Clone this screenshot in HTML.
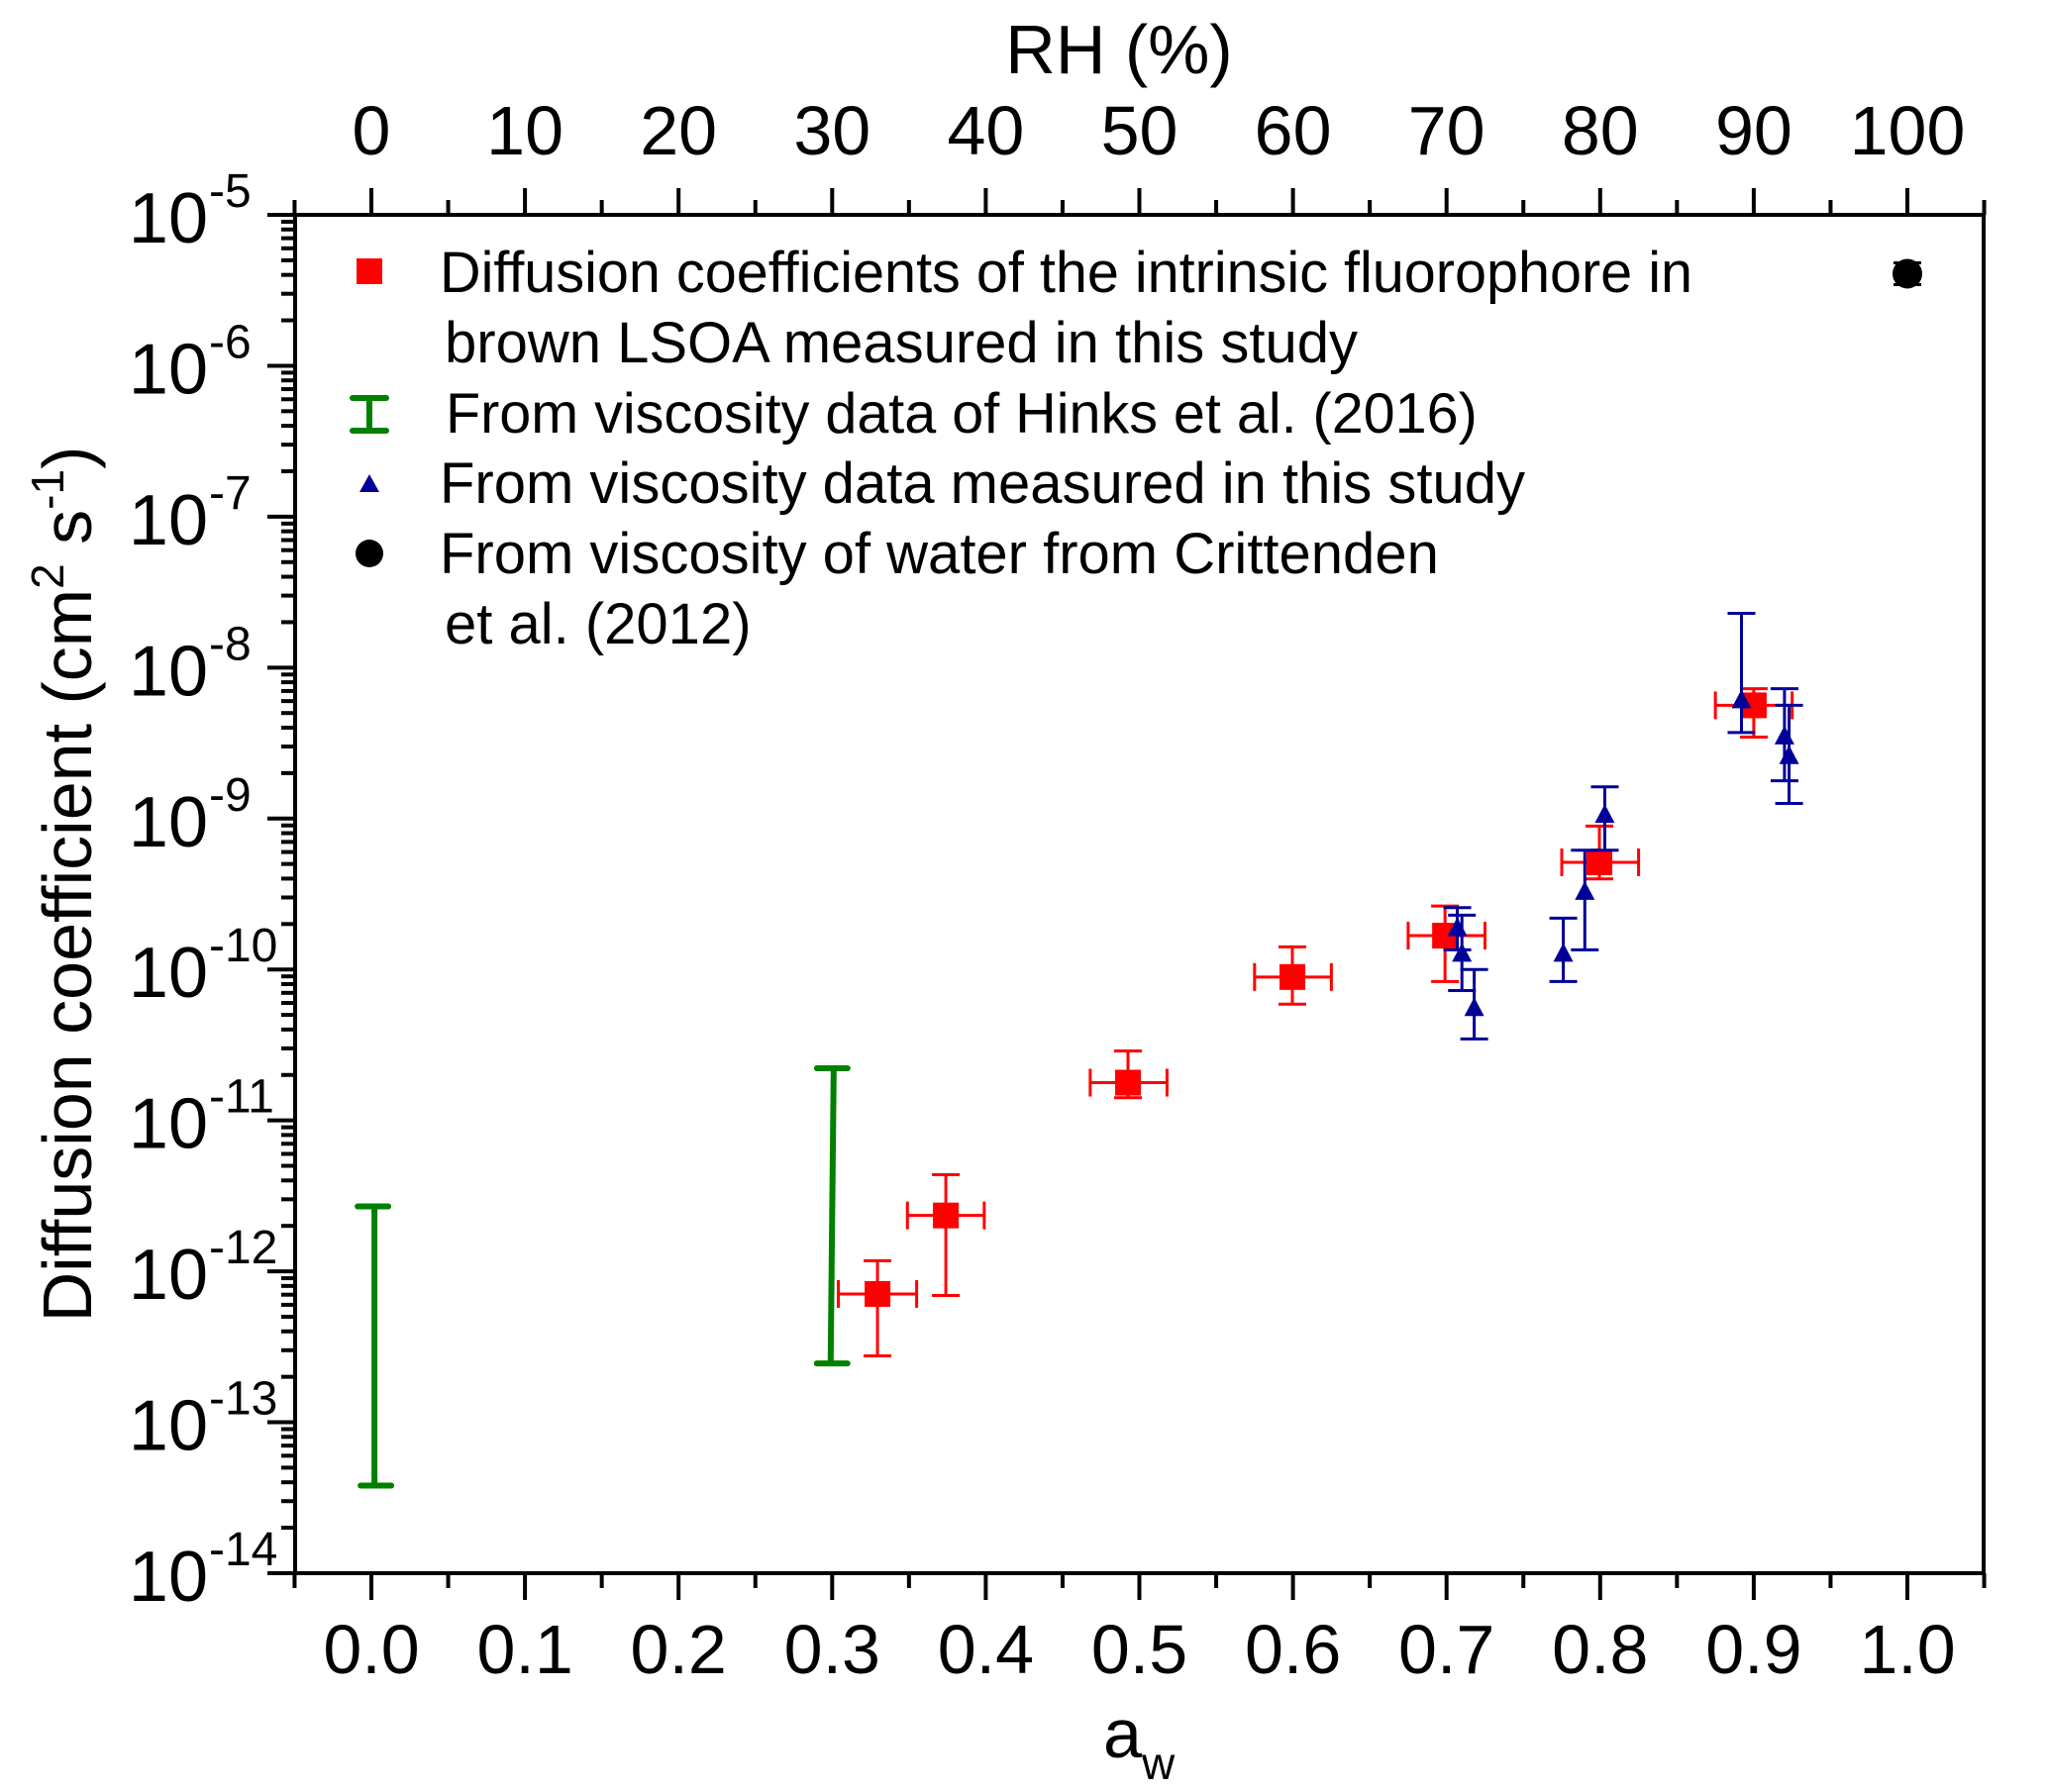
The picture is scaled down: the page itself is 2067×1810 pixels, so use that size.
<!DOCTYPE html>
<html><head><meta charset="utf-8"><style>
html,body{margin:0;padding:0;background:#fff;}
svg{display:block;font-family:"Liberation Sans",Arial,sans-serif;}
</style></head><body>
<svg id="chart" width="2067" height="1810" viewBox="0 0 2067 1810" xmlns="http://www.w3.org/2000/svg">
<rect x="0" y="0" width="2067" height="1810" fill="#fff"/>
<g id="axes"></g>
<g id="marks"></g>
<g id="legend">
  <rect x="360" y="261" width="26" height="26" fill="#ff0000"/>
  <text x="444" y="295" font-size="58" textLength="1265" lengthAdjust="spacingAndGlyphs">Diffusion coefficients of the intrinsic fluorophore in</text>
  <text x="449" y="366" font-size="58">brown LSOA measured in this study</text>
  <g stroke="#008000" stroke-width="6" stroke-linecap="round">
    <line x1="373" y1="402" x2="373" y2="435"/><line x1="356" y1="402" x2="390" y2="402"/><line x1="356" y1="435" x2="390" y2="435"/>
  </g>
  <text x="450" y="437" font-size="57.5">From viscosity data of Hinks et al. (2016)</text>
  <polygon points="363,497 383,497 373,479" fill="#000099"/>
  <text x="444" y="508" font-size="58">From viscosity data measured in this study</text>
  <circle cx="373" cy="559" r="14" fill="#000"/>
  <text x="444" y="579" font-size="58">From viscosity of water from Crittenden</text>
  <text x="449" y="650" font-size="58">et al. (2012)</text>
</g>
</svg>
<script>
// ---- data ----
const redAw   = [0.3295, 0.374, 0.4926, 0.5996, 0.699, 0.7995, 0.900];
const redLog  = [-12.15, -11.63, -10.75, -10.05, -9.776, -9.29, -8.25];
const redHi   = [-11.93, -11.36, -10.54, -9.85, -9.58, -9.05, -8.14];
const redLo   = [-12.56, -12.16, -10.85, -10.23, -10.08, -9.40, -8.46];
const redXLo  = [0.304, 0.349, 0.468, 0.575, 0.675, 0.775, 0.875];
const redXHi  = [0.355, 0.399, 0.518, 0.625, 0.725, 0.825, 0.925];

const blueAw  = [0.707, 0.710, 0.718, 0.776, 0.790, 0.803, 0.892, 0.920, 0.923];
const blueLog = [-9.72, -9.89, -10.25, -9.89, -9.48, -8.97, -8.21, -8.45, -8.58];
const blueHi  = [-9.59, -9.64, -10.0, -9.66, -9.21, -8.79, -7.64, -8.14, -8.25];
const blueLo  = [-9.87, -10.14, -10.46, -10.08, -9.87, -9.21, -8.43, -8.75, -8.90];

const greenAwTop = [0.002, 0.301];
const greenAwBot = [0.002, 0.299];
const greenHi    = [-11.57, -10.655];
const greenLo    = [-13.42, -12.61];

const waterAw  = [1.0];
const waterLog = [-5.39];

const xTickLabels  = ["0.0","0.1","0.2","0.3","0.4","0.5","0.6","0.7","0.8","0.9","1.0"];
const rhTickLabels = ["0","10","20","30","40","50","60","70","80","90","100"];
const yExponents   = [-5,-6,-7,-8,-9,-10,-11,-12,-13,-14];

// ---- scales ----
const X0 = 375, XPER = 1551;
const Y0 = 217, YPER = 152.44;
const L = 298, R = 2003, T = 217, B = 1589;
function sx(a){ return X0 + a*XPER; }
function sy(l){ return Y0 + (-5 - l)*YPER; }

const NS = "http://www.w3.org/2000/svg";
function mk(tag, attrs, parent){
  const e = document.createElementNS(NS, tag);
  for (const k in attrs) e.setAttribute(k, attrs[k]);
  parent.appendChild(e);
  return e;
}
const axes = document.getElementById('axes');
const marks = document.getElementById('marks');

const frame = mk('rect', {x:L, y:T, width:R-L, height:B-T, fill:'none', stroke:'#000', 'stroke-width':4}, axes);



for (let i = -1; i <= 21; i++) {
  const a = i*0.05;
  const x = sx(a);
  if (x < L-1 || x > R+1) continue;
  const major = (i % 2 === 0);
  const len = major ? 27 : 15;
  const tb = mk('line', {x1:x, y1:B, x2:x, y2:B+len, stroke:'#000', 'stroke-width':4}, axes);
  
  
  const tt = mk('line', {x1:x, y1:T, x2:x, y2:T-len, stroke:'#000', 'stroke-width':4}, axes);
  
  
}
xTickLabels.forEach((lab, i) => {
  const t = mk('text', {x:sx(i*0.1), y:1690, 'font-size':70, 'text-anchor':'middle'}, axes);
  t.textContent = lab;
  
  
});
rhTickLabels.forEach((lab, i) => {
  const t = mk('text', {x:sx(i*0.1), y:156, 'font-size':70, 'text-anchor':'middle'}, axes);
  t.textContent = lab;
  
  
});

for (let d = -14; d <= -5; d++) {
  const y = sy(d);
  const tk = mk('line', {x1:L-28, y1:y, x2:L, y2:y, stroke:'#000', 'stroke-width':4}, axes);
  
  
  if (d < -5) {
    for (let m = 2; m <= 9; m++) {
      const ym = sy(d + Math.log10(m));
      const mt = mk('line', {x1:L-14, y1:ym, x2:L, y2:ym, stroke:'#000', 'stroke-width':4}, axes);
      
      
    }
  }
}
yExponents.forEach(ex => {
  const y = sy(ex);
  const t = mk('text', {x:210, y:y+28, 'font-size':72, 'text-anchor':'end'}, axes);
  t.textContent = '10';
  
  
  const s = mk('text', {x:211, y:y-8, 'font-size':48}, axes);
  s.textContent = String(ex);
  
  
});

const rh = mk('text', {x:1130, y:74, 'font-size':70, 'text-anchor':'middle'}, axes);
rh.textContent = 'RH (%)';



const xt = mk('text', {x:1114, y:1775, 'font-size':70}, axes);
xt.textContent = 'a';


const xs = mk('tspan', {'font-size':46, dy:22}, xt);
xs.textContent = 'w';

const yt = mk('text', {x:0, y:0, 'font-size':70, 'text-anchor':'middle', transform:'translate(92,893) rotate(-90)'}, axes);


function ts(txt, attrs){ const e = mk('tspan', attrs||{}, yt); e.textContent = txt; return e; }
ts('Diffusion coefficient (cm');
ts('2', {'font-size':46, dy:-28});
ts(' s', {dy:28});
ts('-1', {'font-size':46, dy:-28});
ts(')', {dy:28});

function vbar(x, y1, y2, col, w, cap, name){
  const g = mk('g', {stroke:col, 'stroke-width':w}, marks);
  
  
  mk('line', {x1:x, y1:y1, x2:x, y2:y2}, g);
  mk('line', {x1:x-cap, y1:y1, x2:x+cap, y2:y1}, g);
  mk('line', {x1:x-cap, y1:y2, x2:x+cap, y2:y2}, g);
  return g;
}

greenHi.forEach((h, i) => {
  const g = mk('g', {stroke:'#008000', 'stroke-width':6, 'stroke-linecap':'round'}, marks);
  
  
  const xt_ = sx(greenAwTop[i]), xb = sx(greenAwBot[i]);
  const yh = sy(h), yl = sy(greenLo[i]);
  mk('line', {x1:xt_, y1:yh, x2:xb, y2:yl}, g);
  mk('line', {x1:xt_-17, y1:yh, x2:xt_+14, y2:yh}, g);
  mk('line', {x1:xb-14, y1:yl, x2:xb+17, y2:yl}, g);
});

redAw.forEach((a, i) => {
  const x = sx(a), y = sy(redLog[i]);
  vbar(x, sy(redHi[i]), sy(redLo[i]), '#ff0000', 3, 14, 'red-y-errorbar');
  const g = mk('g', {stroke:'#ff0000', 'stroke-width':3}, marks);
  
  
  const x1 = sx(redXLo[i]), x2 = sx(redXHi[i]);
  mk('line', {x1:x1, y1:y, x2:x2, y2:y}, g);
  mk('line', {x1:x1, y1:y-14, x2:x1, y2:y+14}, g);
  mk('line', {x1:x2, y1:y-14, x2:x2, y2:y+14}, g);
});
redAw.forEach((a, i) => {
  const r = mk('rect', {x:sx(a)-13, y:sy(redLog[i])-13, width:26, height:26, fill:'#ff0000'}, marks);
  
  
});

blueAw.forEach((a, i) => {
  vbar(sx(a), sy(blueHi[i]), sy(blueLo[i]), '#000099', 3, 14, 'blue-y-errorbar');
});
blueAw.forEach((a, i) => {
  const x = sx(a), y = sy(blueLog[i]);
  const p = mk('polygon', {points:`${x-10},${y+9} ${x+10},${y+9} ${x},${y-10}`, fill:'#000099'}, marks);
  
  
});

waterAw.forEach((a, i) => {
  const x = sx(a), y = sy(waterLog[i]);
  vbar(x, y-11, y+11, '#000', 3, 14, 'water-errorbar');
  const c = mk('circle', {cx:x, cy:y, r:15, fill:'#000'}, marks);
  
  
});
</script>
</body></html>
